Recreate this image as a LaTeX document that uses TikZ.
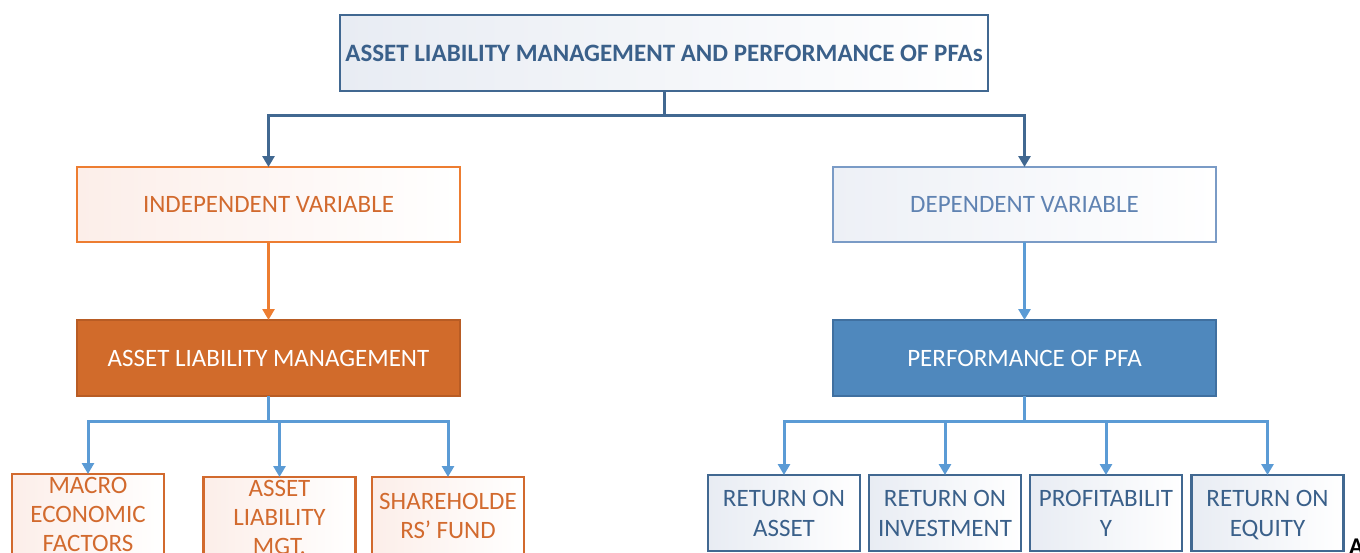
\documentclass[tikz,border=0pt]{standalone}
\usepackage{fontspec}
\setmainfont{Carlito}
\usetikzlibrary{arrows.meta}

\definecolor{navy}{RGB}{65,104,145}
\definecolor{navytext}{RGB}{58,96,138}
\definecolor{navytint}{RGB}{232,236,243}
\definecolor{orline}{RGB}{237,125,49}
\definecolor{ordark}{RGB}{210,106,46}
\definecolor{ortint}{RGB}{252,238,233}
\definecolor{orfill}{RGB}{209,107,43}
\definecolor{orborder}{RGB}{184,92,36}
\definecolor{skyline}{RGB}{91,155,213}
\definecolor{pfafill}{RGB}{79,136,189}
\definecolor{pfaborder}{RGB}{64,112,160}
\definecolor{depline}{RGB}{122,155,198}
\definecolor{deptext}{RGB}{96,131,178}
\definecolor{deptint}{RGB}{237,240,246}

\tikzset{
  box/.style={rectangle, inner sep=0pt, outer sep=0pt, line width=2.6pt,
    font=\fontsize{25}{30}\selectfont, align=center},
  titlebox/.style={box, draw=navy, left color=navytint, right color=white,
    text=navytext, font=\fontsize{25}{30}\selectfont\bfseries,
    minimum width=648, minimum height=76},
  indepbox/.style={box, draw=orline, left color=ortint, right color=white,
    text=ordark, minimum width=383, minimum height=75},
  depbox/.style={box, draw=depline, left color=deptint, right color=white,
    text=deptext, minimum width=383, minimum height=75},
  almbox/.style={box, draw=orborder, fill=orfill, text=white,
    minimum width=383, minimum height=76},
  pfabox/.style={box, draw=pfaborder, fill=pfafill, text=white,
    minimum width=383, minimum height=76},
  leafor/.style={box, draw=ordark, left color=ortint, right color=white,
    minimum width=152, minimum height=84, anchor=north},
  leaftext/.style={inner sep=0pt, outer sep=0pt, align=center, text=ordark,
    font=\fontsize{25}{29}\selectfont},
  leafnavy/.style={box, draw=navy, left color=navytint, right color=white,
    text=navytext, minimum width=152, minimum height=76, anchor=north},
  tip/.style={-{Triangle[width=12pt,length=11pt]}},
  darkconn/.style={draw=navy, line width=3pt},
  orconn/.style={draw=orline, line width=2.6pt},
  skyconn/.style={draw=skyline, line width=3pt},
}

\begin{document}
\begin{tikzpicture}[x=1pt,y=-1pt]
\useasboundingbox (0,0) rectangle (1360,552);
\clip (0,0) rectangle (1360,552);

% top level
\node[titlebox] (top) at (664,53) {ASSET LIABILITY MANAGEMENT AND PERFORMANCE OF PFAs};

% variable groups
\node[indepbox] (indep) at (268.5,204.5) {INDEPENDENT VARIABLE};
\node[depbox] (dep) at (1024.5,204.5) {DEPENDENT VARIABLE};
\node[almbox] (alm) at (268.5,358) {ASSET LIABILITY MANAGEMENT};
\node[pfabox] (pfa) at (1024.5,358) {PERFORMANCE OF PFA};

% asset liability management components
\node[leafor] (macro) at (88,474) {};
\node[leafor] (almgt) at (279.5,477) {};
\node[leafor] (share) at (448,477) {};
\node[leaftext] (macrotext) at (88,514) {MACRO\\ECONOMIC\\FACTORS};
\node[leaftext] (almgttext) at (279.5,517) {ASSET\\LIABILITY\\MGT.};
\node[leaftext] (sharetext) at (448,516) {SHAREHOLDE\\RS’ FUND};

% performance measures (the Q tail is smashed so all four boxes set their lines alike)
\node[leafnavy] (roa) at (784,475) {RETURN ON\\ASSET};
\node[leafnavy] (roi) at (945,475) {RETURN ON\\INVESTMENT};
\node[leafnavy] (prof) at (1106,475) {PROFITABILIT\\Y};
\node[leafnavy] (roe) at (1267.5,475) {RETURN ON\\\smash{EQUITY}};

% caption letter running off the lower right edge
\node[anchor=base west, inner sep=0pt, font=\fontsize{24}{26}\selectfont\bfseries] (capA) at (1349,554) {A};

% junction points
\coordinate (tj) at (664,115);
\coordinate (lj) at (268.5,421);
\coordinate (rj) at (1024.5,421);

% connectors
\draw[darkconn] (top.south) -- (tj);
\draw[darkconn, tip] (tj) -| (indep.north);
\draw[darkconn, tip] (tj) -| (dep.north);

\draw[orconn, tip] (indep.south) -- (alm.north);
\draw[skyconn, tip] (dep.south) -- (pfa.north);

\draw[skyconn] (alm.south) -- (lj);
\draw[skyconn, tip] (lj) -| (macro.north);
\draw[skyconn, tip] (lj) -| (almgt.north);
\draw[skyconn, tip] (lj) -| (share.north);

\draw[skyconn] (pfa.south) -- (rj);
\draw[skyconn, tip] (rj) -| (roa.north);
\draw[skyconn, tip] (rj) -| (roi.north);
\draw[skyconn, tip] (rj) -| (prof.north);
\draw[skyconn, tip] (rj) -| (roe.north);
\end{tikzpicture}
\end{document}
